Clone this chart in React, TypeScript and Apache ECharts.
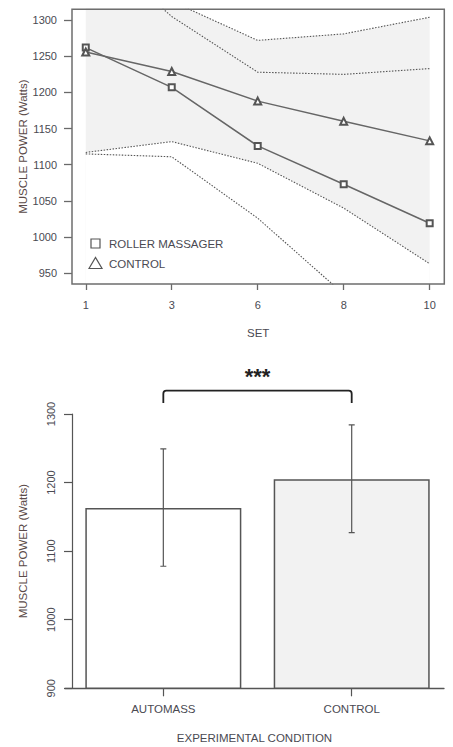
import React, { useEffect, useRef } from "react";
import * as echarts from "echarts";

// ---------- Top chart data ----------
const sets = ["1", "3", "6", "8", "10"];
const rollerMean = [1262, 1207, 1126, 1073, 1019];
const controlMean = [1256, 1229, 1188, 1160, 1133];
const rollerUpper = [1409, 1305, 1228, 1225, 1233];
const rollerLower = [1115, 1111, 1026, 921, 805];
const controlUpper = [1395, 1326, 1272, 1281, 1304];
const controlLower = [1117, 1132, 1102, 1040, 963];
const topYTicks = [950, 1000, 1050, 1100, 1150, 1200, 1250, 1300];

// ---------- Bottom chart data ----------
const conditions = ["AUTOMASS", "CONTROL"];
const conditionMean = [1163, 1205];
const conditionLow = [1078, 1127];
const conditionHigh = [1249, 1284];
const barFills = ["#ffffff", "#f2f2f2"];
const bottomYTicks = [900, 1000, 1100, 1200, 1300];
const sigBracket = [1334, 1316]; // bracket level and end level (annotation)

const FONT = "'Liberation Sans', Arial, sans-serif";
const TXT = "#4a4a52";

const pts = (arr: number[]) => arr.map((v, i) => [i, v]);

export default function App() {
  const ref = useRef<HTMLDivElement>(null);
  useEffect(() => {
    if (!ref.current) return;
    const chart = echarts.init(ref.current, undefined, { renderer: "svg" });

    const dotted = (data: number[], name: string) => ({
      type: "line",
      name,
      xAxisIndex: 0,
      yAxisIndex: 0,
      data: pts(data),
      symbol: "none",
      z: 4,
      lineStyle: { color: "#555", width: 1.1, type: [1.5, 1.5] },
      silent: true,
    });

    const option: any = {
      animation: false,
      textStyle: { fontFamily: FONT },
      grid: [
        { left: 72, top: 9.3, width: 372.3, height: 274.7 },
        { left: 65, top: 414, width: 379, height: 274.3 },
      ],
      xAxis: [
        {
          gridIndex: 0,
          type: "value",
          min: -0.16,
          max: 4.17,
          axisLine: { show: false, onZero: false },
          splitLine: { show: false },
          axisTick: {
            show: true,
            customValues: sets.map((_, i) => i),
            length: 6,
            lineStyle: { color: "#6a6a6a", width: 1.3 },
          },
          axisLabel: {
            customValues: sets.map((_, i) => i),
            formatter: (v: number) => sets[Math.round(v)],
            margin: 15,
            fontSize: 11,
            color: TXT,
            fontFamily: FONT,
          },
          name: "SET",
          nameLocation: "middle",
          nameGap: 43,
          nameMoveOverlap: false,
          nameTextStyle: { fontSize: 11.5, color: TXT, fontFamily: FONT },
        },
        {
          gridIndex: 1,
          type: "value",
          min: -0.522,
          max: 1.49,
          axisLine: { show: true, onZero: false, lineStyle: { color: "#555", width: 1.3 } },
          splitLine: { show: false },
          axisTick: {
            show: true,
            customValues: conditions.map((_, i) => i),
            length: 8,
            lineStyle: { color: "#555", width: 1.2 },
          },
          axisLabel: {
            customValues: conditions.map((_, i) => i),
            formatter: (v: number) => conditions[Math.round(v)],
            margin: 15,
            fontSize: 11.5,
            color: TXT,
            fontFamily: FONT,
          },
          name: "EXPERIMENTAL CONDITION",
          nameLocation: "middle",
          nameGap: 44,
          nameMoveOverlap: false,
          nameTextStyle: { fontSize: 11.5, color: TXT, fontFamily: FONT },
        },
      ],
      yAxis: [
        {
          gridIndex: 0,
          type: "value",
          min: 935,
          max: 1315,
          axisLine: { show: false, onZero: false },
          splitLine: { show: false },
          axisTick: {
            show: true,
            customValues: topYTicks,
            length: 8,
            lineStyle: { color: "#6a6a6a", width: 1.3 },
          },
          axisLabel: {
            customValues: topYTicks,
            formatter: (v: number) => String(v),
            margin: 15,
            fontSize: 11,
            color: TXT,
            fontFamily: FONT,
          },
          name: "MUSCLE POWER (Watts)",
          nameLocation: "middle",
          nameGap: 43,
          nameRotate: 90,
          nameMoveOverlap: false,
          nameTextStyle: { fontSize: 11.5, color: "#5a4a48", fontFamily: FONT },
        },
        {
          gridIndex: 1,
          type: "value",
          min: 900,
          max: 1300,
          offset: -7,
          axisLine: { show: true, onZero: false, lineStyle: { color: "#555", width: 1.2 } },
          splitLine: { show: false },
          axisTick: {
            show: true,
            customValues: bottomYTicks,
            length: 8,
            lineStyle: { color: "#555", width: 1.2 },
          },
          axisLabel: {
            customValues: bottomYTicks,
            formatter: (v: number) => String(v),
            rotate: 90,
            margin: 16,
            fontSize: 11,
            color: TXT,
            fontFamily: FONT,
          },
          name: "MUSCLE POWER (Watts)",
          nameLocation: "middle",
          nameGap: 43,
          nameRotate: 90,
          nameMoveOverlap: false,
          nameTextStyle: { fontSize: 11.5, color: "#5a4a48", fontFamily: FONT },
        },
      ],
      series: [
        // shaded control band: fill under the upper bound, then white under the lower bound
        {
          type: "line",
          xAxisIndex: 0,
          yAxisIndex: 0,
          data: pts(controlUpper),
          symbol: "none",
          lineStyle: { opacity: 0 },
          areaStyle: { color: "#f2f2f2", opacity: 1, origin: "start" },
          z: 1,
          silent: true,
        },
        {
          type: "line",
          xAxisIndex: 0,
          yAxisIndex: 0,
          data: pts(controlLower),
          symbol: "none",
          lineStyle: { opacity: 0 },
          areaStyle: { color: "#ffffff", opacity: 1, origin: "start" },
          z: 2,
          silent: true,
        },
        dotted(controlUpper, "controlUpper"),
        dotted(controlLower, "controlLower"),
        dotted(rollerUpper, "rollerUpper"),
        dotted(rollerLower, "rollerLower"),
        {
          type: "line",
          name: "ROLLER MASSAGER",
          xAxisIndex: 0,
          yAxisIndex: 0,
          data: pts(rollerMean),
          symbol: "emptyRect",
          symbolSize: 6,
          z: 6,
          lineStyle: { color: "#666", width: 1.5 },
          itemStyle: { color: "#555", borderWidth: 1.2 },
        },
        {
          type: "line",
          name: "CONTROL",
          xAxisIndex: 0,
          yAxisIndex: 0,
          data: pts(controlMean),
          symbol: "emptyTriangle",
          symbolSize: 7,
          z: 6,
          lineStyle: { color: "#666", width: 1.5 },
          itemStyle: { color: "#555", borderWidth: 1.2 },
        },
        // bottom bars
        {
          type: "bar",
          xAxisIndex: 1,
          yAxisIndex: 1,
          barWidth: 156,
          data: conditionMean.map((v, i) => ({
            value: [i, v],
            itemStyle: { color: barFills[i], borderColor: "#555", borderWidth: 1.5 },
          })),
          z: 2,
        },
        // error bars
        {
          type: "custom",
          xAxisIndex: 1,
          yAxisIndex: 1,
          z: 5,
          clip: false,
          encode: { x: 0, y: [1, 2] },
          data: conditionMean.map((_, i) => [i, conditionLow[i], conditionHigh[i]]),
          renderItem: (params: any, api: any) => {
            const x = api.value(0);
            const lo = api.coord([x, api.value(1)]);
            const hi = api.coord([x, api.value(2)]);
            const cap = 3;
            const d = `M${lo[0] - cap} ${lo[1]} L${lo[0] + cap} ${lo[1]} M${lo[0]} ${lo[1]} L${hi[0]} ${hi[1]} M${hi[0] - cap} ${hi[1]} L${hi[0] + cap} ${hi[1]}`;
            return {
              type: "path",
              shape: { pathData: d },
              style: { stroke: "#555", lineWidth: 1.2, fill: "none" },
            };
          },
        },
        // significance bracket
        {
          type: "custom",
          xAxisIndex: 1,
          yAxisIndex: 1,
          z: 5,
          clip: false,
          silent: true,
          encode: { x: [0, 1], y: [2, 3] },
          data: [[0, 1, sigBracket[0], sigBracket[1]]],
          renderItem: (params: any, api: any) => {
            const a = api.coord([api.value(0), api.value(2)]);
            const b = api.coord([api.value(1), api.value(3)]);
            const x1 = a[0], y1 = a[1], x2 = b[0], y2 = b[1];
            const r = 3;
            const d = `M${x1} ${y2} L${x1} ${y1 + r} Q${x1} ${y1} ${x1 + r} ${y1} L${x2 - r} ${y1} Q${x2} ${y1} ${x2} ${y1 + r} L${x2} ${y2}`;
            return {
              type: "group",
              children: [
                {
                  type: "path",
                  shape: { pathData: d },
                  style: { stroke: "#222", lineWidth: 1.8, fill: "none" },
                },
                {
                  type: "text",
                  x: (x1 + x2) / 2,
                  y: y1 - 14,
                  style: {
                    text: "***",
                    fontSize: 22,
                    fontWeight: "bold",
                    fill: "#222",
                    align: "center",
                    verticalAlign: "middle",
                    fontFamily: FONT,
                  },
                },
              ],
            };
          },
        },
      ],
      graphic: [
        {
          type: "rect",
          z: 100,
          silent: true,
          shape: { x: 72, y: 9.3, width: 372.3, height: 274.7 },
          style: { fill: "none", stroke: "#6e6e6e", lineWidth: 1.5 },
        },
        {
          type: "rect",
          z: 100,
          shape: { x: 91, y: 239, width: 9, height: 9 },
          style: { fill: "none", stroke: "#555", lineWidth: 1.2 },
        },
        {
          type: "polygon",
          z: 100,
          shape: { points: [[89, 268.5], [95.5, 257.5], [102, 268.5]] },
          style: { fill: "none", stroke: "#555", lineWidth: 1.2 },
        },
        {
          type: "text",
          z: 100,
          x: 109,
          y: 243.7,
          style: { text: "ROLLER MASSAGER", fontSize: 11.5, fill: TXT, verticalAlign: "middle", fontFamily: FONT },
        },
        {
          type: "text",
          z: 100,
          x: 109,
          y: 263.5,
          style: { text: "CONTROL", fontSize: 11.5, fill: TXT, verticalAlign: "middle", fontFamily: FONT },
        },
      ],
    };

    chart.setOption(option);
    return () => chart.dispose();
  }, []);

  return (
    <div
      ref={ref}
      style={{ position: "fixed", left: 0, top: 0, width: 453, height: 747, background: "#fff" }}
    />
  );
}
